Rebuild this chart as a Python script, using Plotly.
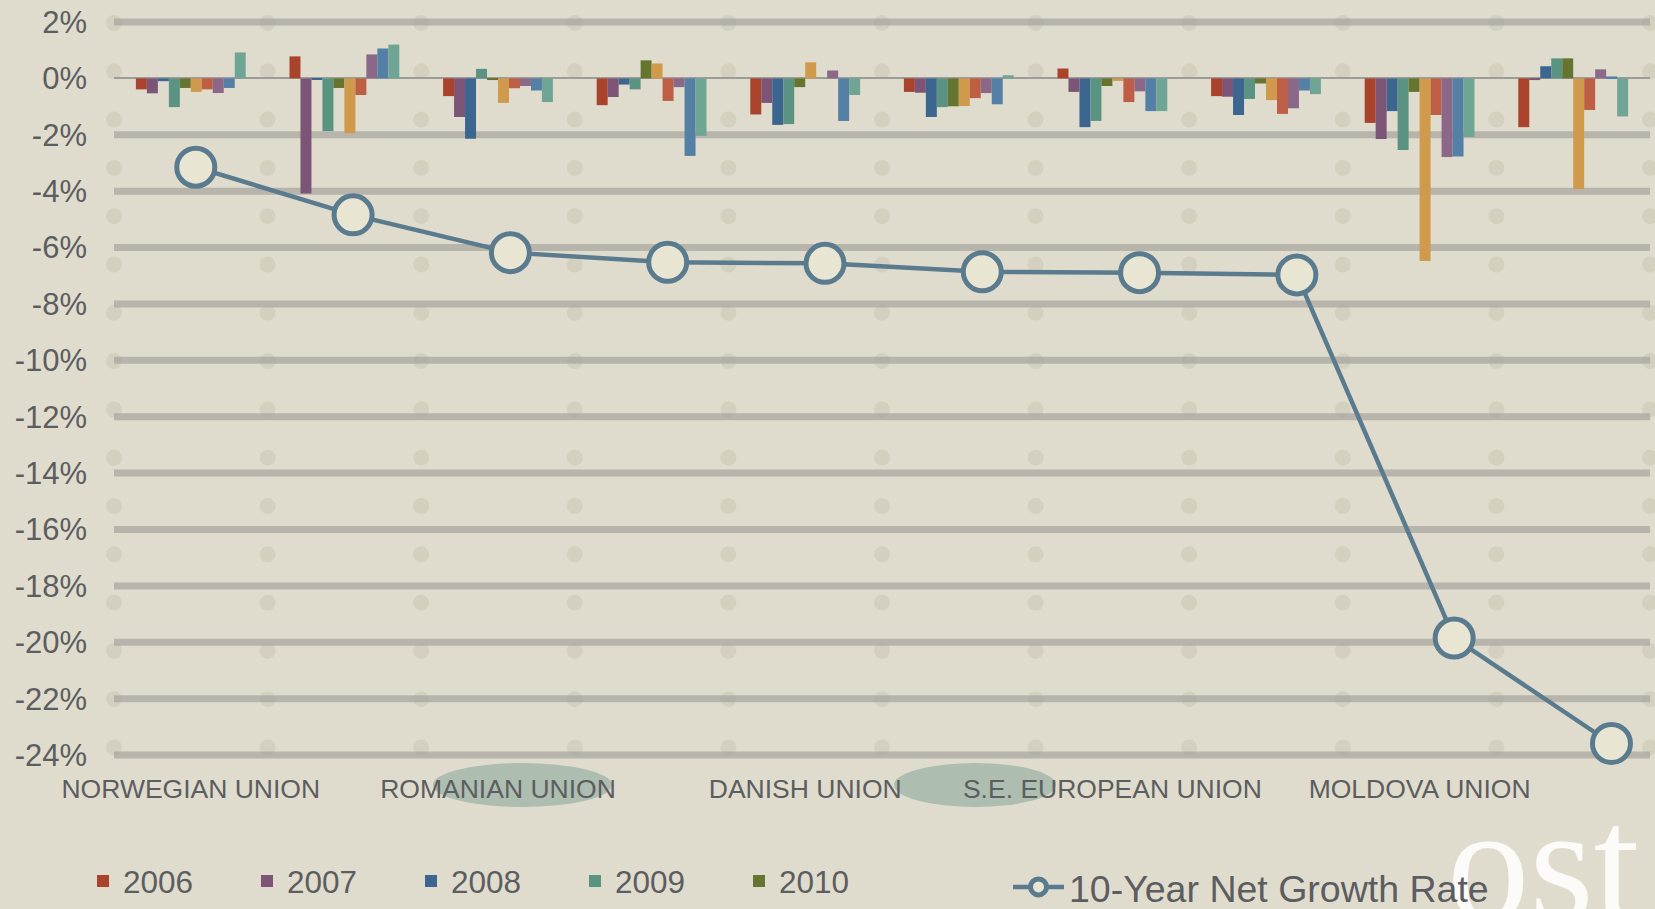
import plotly.graph_objects as go

# ---------------- data ----------------
categories = ["NORWEGIAN UNION", "SWEDISH UNION", "ROMANIAN UNION", "FINLAND UNION",
              "DANISH UNION", "NETHERLANDS UNION", "S.E. EUROPEAN UNION", "BALTIC UNION",
              "MOLDOVA UNION", "UKRAINIAN UNION"]
shown_labels = ["NORWEGIAN UNION", "ROMANIAN UNION", "DANISH UNION",
                "S.E. EUROPEAN UNION", "MOLDOVA UNION"]
years = ["2006", "2007", "2008", "2009", "2010", "2011", "2012", "2013", "2014", "2015"]

v2006 = [-0.39, 0.78, -0.63, -0.95, -1.28, -0.48, 0.35, -0.63, -1.58, -1.73]
v2007 = [-0.53, -4.08, -1.37, -0.66, -0.87, -0.51, -0.48, -0.65, -2.15, -0.06]
v2008 = [-0.10, -0.05, -2.14, -0.22, -1.65, -1.37, -1.73, -1.30, -1.16, 0.43]
v2009 = [-1.02, -1.87, 0.34, -0.39, -1.62, -1.02, -1.51, -0.73, -2.54, 0.71]
v2010 = [-0.34, -0.34, -0.06, 0.64, -0.31, -0.99, -0.27, -0.18, -0.48, 0.71]
v2011 = [-0.48, -1.94, -0.87, 0.53, 0.57, -0.98, -0.09, -0.77, -6.48, -3.92]
v2012 = [-0.39, -0.59, -0.35, -0.80, 0.00, -0.70, -0.84, -1.26, -1.30, -1.12]
v2013 = [-0.52, 0.85, -0.27, -0.31, 0.28, -0.52, -0.46, -1.06, -2.79, 0.32]
v2014 = [-0.34, 1.06, -0.43, -2.75, -1.51, -0.92, -1.16, -0.43, -2.77, 0.07]
v2015 = [0.92, 1.20, -0.84, -2.04, -0.59, 0.11, -1.16, -0.56, -2.08, -1.35]
series = [v2006, v2007, v2008, v2009, v2010, v2011, v2012, v2013, v2014, v2015]

growth = [-3.15, -4.84, -6.18, -6.52, -6.56, -6.86, -6.89, -6.97, -19.85, -23.59]
growth_name = "10-Year Net Growth Rate"

y_ticks = [2, 0, -2, -4, -6, -8, -10, -12, -14, -16, -18, -20, -22, -24]
y_ticktext = ["2%", "0%", "-2%", "-4%", "-6%", "-8%", "-10%", "-12%", "-14%",
              "-16%", "-18%", "-20%", "-22%", "-24%"]

watermark = "ost"

# ---------------- style ----------------
bar_colors = ["#a9432c", "#7c5476", "#3c6690", "#5b9382", "#65742f",
              "#d09a4c", "#bd5e45", "#8b6788", "#5580a6", "#6ea595"]
line_color = "#5a7a8e"
text_color = "#5c5d60"
FONT = "Liberation Sans, Arial, sans-serif"
W, H = 1655, 909
ML, MR, MT, MB = 114, 5, 0, 139
plot_w = W - ML - MR
plot_h = H - MT - MB

fig = go.Figure()

for i, (yr, vals) in enumerate(zip(years, series)):
    fig.add_trace(go.Bar(
        x=categories, y=vals, name=yr,
        marker=dict(color=bar_colors[i], line=dict(width=0)),
        showlegend=(i < 5), legend="legend",
    ))

fig.add_trace(go.Scatter(
    x=categories, y=growth, name=growth_name, xaxis="x2", yaxis="y",
    mode="lines+markers",
    line=dict(color=line_color, width=4.5),
    marker=dict(size=38, color="#e8e5d3", line=dict(color=line_color, width=5)),
    legend="legend2",
))

# decorative background dots at category boundaries
shapes = []
n_cat = len(categories)
for c in range(n_cat + 1):
    for r in range(16):
        ypx = 23 + 48.3 * r
        yp = (plot_h - ypx) / plot_h
        xp = c / n_cat
        shapes.append(dict(type="circle", xref="paper", yref="paper",
                           x0=xp - 8 / plot_w, x1=xp + 8 / plot_w,
                           y0=yp - 8 / plot_h, y1=yp + 8 / plot_h,
                           fillcolor="rgba(175,170,150,0.24)", line=dict(width=0),
                           layer="below"))
# thick grid lines (zero handled by the thin zero line)
for v in y_ticks:
    if v == 0:
        continue
    shapes.append(dict(type="line", xref="paper", yref="y", x0=0, x1=1, y0=v, y1=v,
                       line=dict(color="rgba(165,164,156,0.70)", width=7), layer="below"))
# decorative ellipses behind two labels
for (ex0, ex1) in [(433, 612), (894, 1056)]:
    shapes.append(dict(type="circle", xref="paper", yref="paper",
                       x0=(ex0 - ML) / plot_w, x1=(ex1 - ML) / plot_w,
                       y0=(plot_h - 807) / plot_h, y1=(plot_h - 763) / plot_h,
                       fillcolor="rgba(110,150,140,0.45)", line=dict(width=0),
                       layer="below"))
# watermark text, as a label of an invisible shape so it sits beneath the legend
shapes.append(dict(type="rect", xref="paper", yref="paper",
                   x0=(1444 - ML) / plot_w, x1=(1700 - ML) / plot_w,
                   y0=(plot_h - 895) / plot_h, y1=(plot_h - 795) / plot_h,
                   fillcolor="rgba(0,0,0,0)", line=dict(width=0), layer="below",
                   label=dict(text=watermark, textposition="middle left", padding=0,
                              font=dict(family="Liberation Serif, DejaVu Serif, serif",
                                        size=165, color="rgba(255,255,255,0.88)"))))

fig.update_layout(
    width=W, height=H,
    margin=dict(l=ML, r=MR, t=MT, b=MB, autoexpand=False),
    paper_bgcolor="#e0dccd",
    plot_bgcolor="rgba(0,0,0,0)",
    font=dict(family=FONT, color=text_color),
    barmode="group", bargap=0.285, bargroupgap=0,
    shapes=shapes,
    xaxis=dict(type="category", range=[-0.5, 9.5], tickvals=shown_labels,
               ticktext=shown_labels, tickfont=dict(size=26.5, color=text_color),
               showgrid=False, zeroline=False, showline=False, ticks="",
               automargin=False),
    xaxis2=dict(type="category", overlaying="x", range=[-0.52, 9.245],
                visible=False, showgrid=False),
    yaxis=dict(range=[-24.53, 2.78], tickvals=y_ticks, ticktext=y_ticktext,
               tickfont=dict(size=31, color=text_color), showgrid=False,
               zeroline=True, zerolinecolor="#9c9c98", zerolinewidth=2,
               ticks="", ticklabelstandoff=26, automargin=False),
    legend=dict(orientation="h", xref="container", yref="container",
                x=83 / W, xanchor="left", y=(H - 881) / H, yanchor="middle",
                font=dict(size=31.5, color=text_color), bgcolor="rgba(0,0,0,0)",
                entrywidth=119, entrywidthmode="pixels"),
    legend2=dict(orientation="h", xref="container", yref="container",
                 x=1008 / W, xanchor="left", y=(H - 887) / H, yanchor="middle",
                 font=dict(size=37.5, color=text_color), bgcolor="rgba(0,0,0,0)",
                 itemwidth=51, itemsizing="trace"),
)

fig.write_html("out.html",
               config={"displayModeBar": False},
               post_script="document.body.style.margin='0';"
                           "document.body.style.overflow='hidden';")
